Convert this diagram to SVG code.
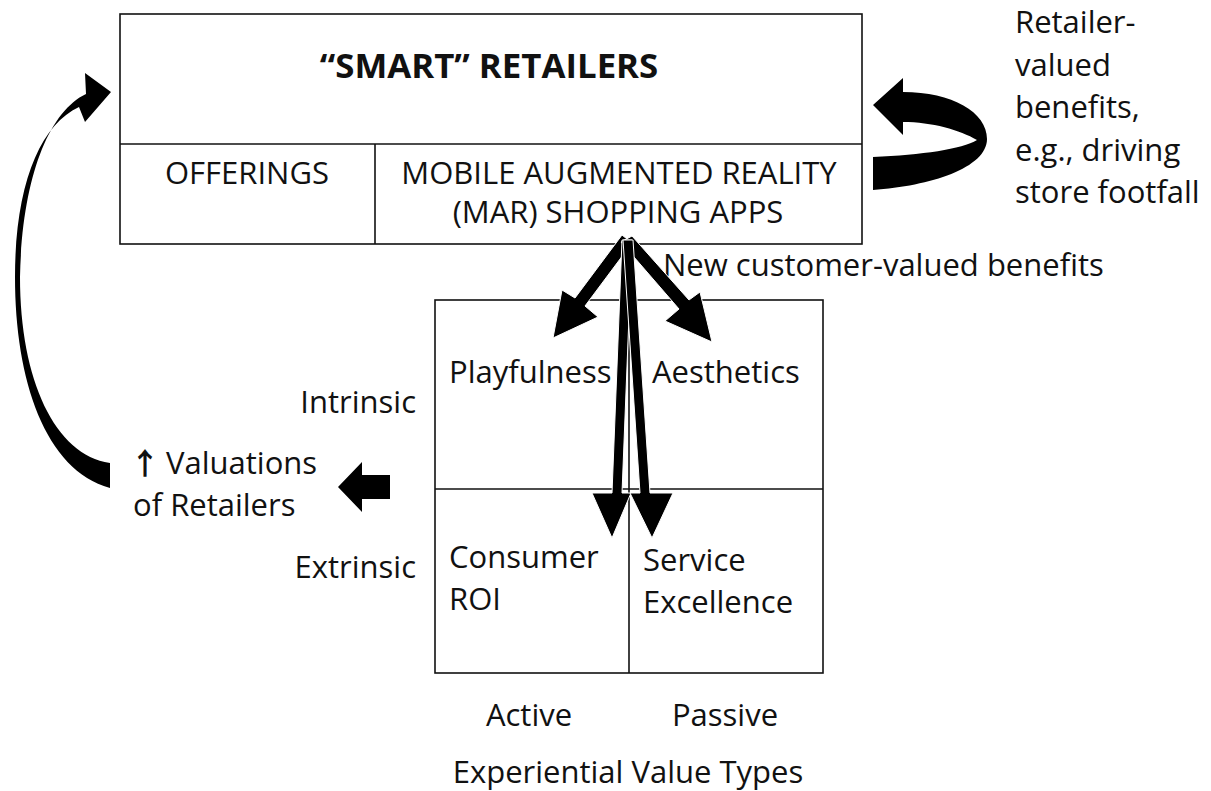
<svg xmlns="http://www.w3.org/2000/svg" width="1211" height="791" viewBox="0 0 1211 791">
  <style>
    .t { font-family: "Open Sans", "Liberation Sans", sans-serif; font-size: 31px; fill: #111; }
    .b { font-weight: bold; font-size: 34.8px; }
    .m { text-anchor: middle; }
    .e { text-anchor: end; }
    .up { font-family: "Noto Sans CJK SC", sans-serif; font-weight: bold; font-size: 30px; }
    .box { fill: none; stroke: #111; stroke-width: 1.6; }
    .ln { stroke: #111; stroke-width: 1.6; fill: none; }
    .arr { fill: #000; stroke: #fff; stroke-width: 1; stroke-linejoin: miter; }
    .blk { fill: #000; }
  </style>
  <rect width="1211" height="791" fill="#fff"/>

  <!-- retailer block -->
  <g id="retailers">
    <rect class="box" x="120" y="14" width="742" height="230"/>
    <line class="ln" x1="120" y1="144" x2="862" y2="144"/>
    <text class="t b m" x="489" y="78">“SMART” RETAILERS</text>
  </g>
  <g id="offerings">
    <line class="ln" x1="375" y1="144" x2="375" y2="244"/>
    <text class="t m" x="247" y="184">OFFERINGS</text>
  </g>
  <g id="mar-apps">
    <text class="t m" x="619" y="184">MOBILE AUGMENTED REALITY</text>
    <text class="t m" x="618" y="223">(MAR) SHOPPING APPS</text>
  </g>

  <!-- retailer-valued benefits note -->
  <g id="retailer-benefits">
    <text class="t" x="1015" y="33">Retailer-</text>
    <text class="t" x="1015" y="76">valued</text>
    <text class="t" x="1015" y="118">benefits,</text>
    <text class="t" x="1015" y="161">e.g., driving</text>
    <text class="t" x="1015" y="203">store footfall</text>
  </g>

  <!-- experiential value grid -->
  <g id="value-grid">
    <rect class="box" x="435" y="300" width="388" height="373"/>
    <line class="ln" x1="435" y1="489" x2="823" y2="489"/>
    <line class="ln" x1="629" y1="300" x2="629" y2="673"/>
  </g>
  <g id="playfulness"><text class="t" x="449" y="383">Playfulness</text></g>
  <g id="aesthetics"><text class="t" x="652" y="383">Aesthetics</text></g>
  <g id="consumer-roi">
    <text class="t" x="449" y="568">Consumer</text>
    <text class="t" x="449" y="610">ROI</text>
  </g>
  <g id="service-excellence">
    <text class="t" x="643" y="571">Service</text>
    <text class="t" x="643" y="613">Excellence</text>
  </g>
  <g id="axis-labels">
    <text class="t e" x="416" y="413">Intrinsic</text>
    <text class="t e" x="416" y="578">Extrinsic</text>
    <text class="t m" x="529" y="726">Active</text>
    <text class="t m" x="725" y="726">Passive</text>
    <text class="t m" x="628" y="783">Experiential Value Types</text>
  </g>
  <g id="valuations">
    <text class="t" x="130" y="474"><tspan class="up">↑</tspan><tspan x="166">Valuations</tspan></text>
    <text class="t" x="133" y="516">of Retailers</text>
  </g>
  <g id="customer-benefits">
    <text class="t" x="663" y="276">New customer-valued benefits</text>
  </g>

  <!-- connectors -->
  <g id="connectors">
    <!-- MAR apps to the four value types -->
    <path class="arr" d="M622,235 L632,243 L585,306 L598,317 L553,338 L562,290 L575,298 Z"/>
    <path class="arr" d="M621,242 L632,236 L689,300 L700,292 L712,342 L665,321 L679,309 Z"/>
    <path class="arr" d="M622,240 L632,240 L622,493 L631,493 L612,538 L592,493 L612,493 Z"/>
    <path class="arr" d="M623,240 L633,240 L650,493 L673,493 L652,538 L630,493 L640,493 Z"/>
    <!-- grid back to valuations -->
    <path class="blk" d="M338,487 L362,462 L362,475 L390,475 L390,499 L362,499 L362,512 Z"/>
    <!-- valuations up to retailers -->
    <path class="blk" d="M110,488 C45,470 15,380 15,277 C15,185 40,125 79,107 L85,122 L111,92 L85,73 L86,94 C48,112 22,180 20,277 C20,380 55,455 110,463 Z"/>
    <!-- apps loop back to retailers -->
    <path class="blk" d="M873,105 L903,78 L903,92 C952,92 987,112 987,139 C987,168 930,186 873,190 L873,157 C922,155 962,149 977,140 C960,130 932,122 903,122 L903,135 Z"/>
  </g>
</svg>
